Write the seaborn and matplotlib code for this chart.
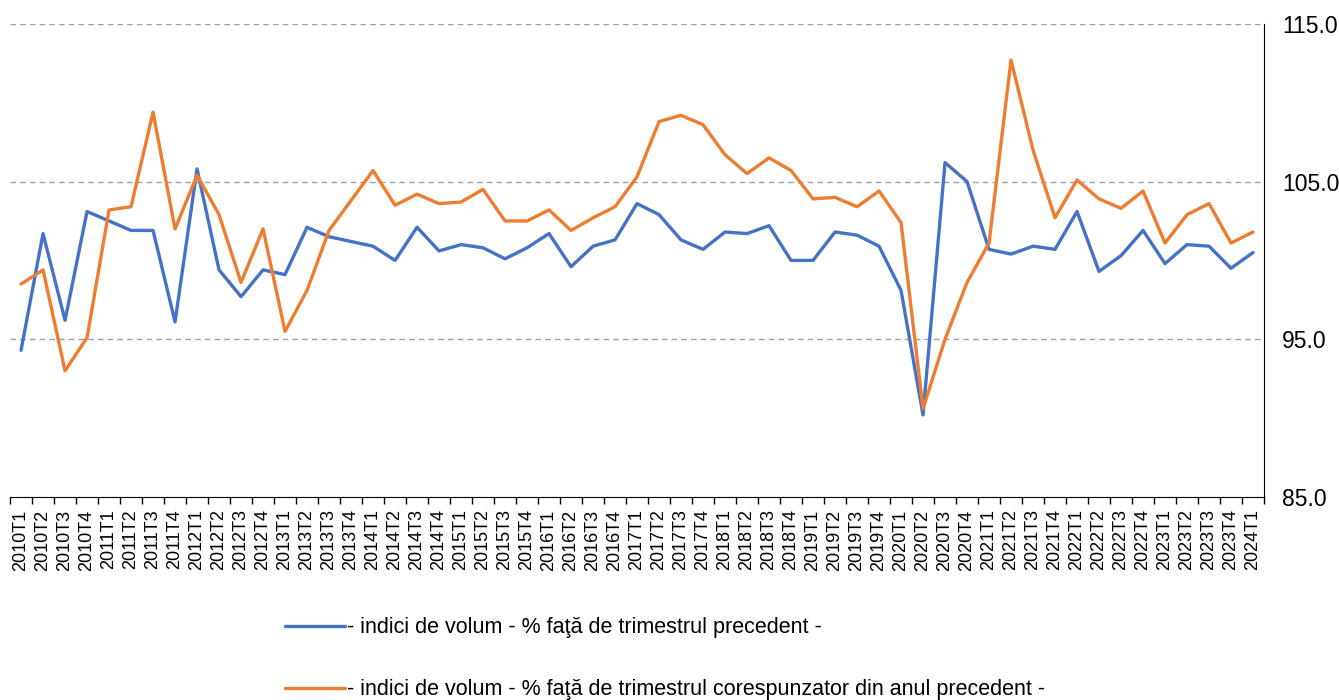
import matplotlib
matplotlib.use("Agg")
import matplotlib.pyplot as plt
import numpy as np
import pandas as pd
import seaborn as sns

# quarters 2010T1 .. 2024T1
quarters = [f"{y}T{q}" for y in range(2010, 2024) for q in range(1, 5)] + ["2024T1"]

# volume index, % vs previous quarter
prev_quarter = [
    94.3, 101.7, 96.2, 103.1, 102.5, 101.9, 101.9, 96.1, 105.8, 99.4,
    97.7, 99.4, 99.1, 102.1, 101.5, 101.2, 100.9, 100.0, 102.1, 100.6,
    101.0, 100.8, 100.1, 100.8, 101.7, 99.6, 100.9, 101.3, 103.6, 102.9,
    101.3, 100.7, 101.8, 101.7, 102.2, 100.0, 100.0, 101.8, 101.6, 100.9,
    98.1, 90.2, 106.2, 105.0, 100.7, 100.4, 100.9, 100.7, 103.1, 99.3,
    100.3, 101.9, 99.8, 101.0, 100.9, 99.5, 100.5,
]

# volume index, % vs same quarter of previous year
prev_year = [
    98.5, 99.4, 93.0, 95.1, 103.2, 103.4, 109.4, 102.0, 105.4, 102.9,
    98.6, 102.0, 95.5, 98.1, 101.9, 103.8, 105.7, 103.5, 104.2, 103.6,
    103.7, 104.5, 102.5, 102.5, 103.2, 101.9, 102.7, 103.4, 105.3, 108.8,
    109.2, 108.6, 106.7, 105.5, 106.5, 105.7, 103.9, 104.0, 103.4, 104.4,
    102.4, 90.6, 95.0, 98.6, 101.1, 112.7, 107.0, 102.7, 105.1, 103.9,
    103.3, 104.4, 101.1, 102.9, 103.6, 101.1, 101.8,
]

labels = [
    "- indici de volum - % faţă de trimestrul precedent -",
    "- indici de volum - % faţă de trimestrul corespunzator din anul precedent -",
]

df = pd.DataFrame({
    "idx": list(range(len(quarters))) * 2,
    "value": prev_quarter + prev_year,
    "serie": [labels[0]] * len(quarters) + [labels[1]] * len(quarters),
})

sns.set_style("ticks")
plt.rcParams["font.family"] = ["Liberation Sans", "DejaVu Sans"]
plt.rcParams["text.color"] = "black"

fig = plt.figure(figsize=(13.39, 7.0), dpi=100)
ax = fig.add_axes([0.0075, 0.29, 0.9365, 0.676])

sns.lineplot(data=df, x="idx", y="value", hue="serie",
             palette=["#4472C4", "#ED7D31"], linewidth=2.4, ax=ax)

ax.set_xlim(-0.5, len(quarters) - 0.5)
ax.set_ylim(85, 115)
ax.set_yticks([85, 95, 105, 115])
ax.set_yticklabels([f"{v:.1f}" for v in [85, 95, 105, 115]], fontsize=16.5)
ax.yaxis.tick_right()
ax.tick_params(axis="y", which="major", right=True, left=False, direction="out",
               length=5, width=1, color="black", labelcolor="black", pad=8)

ax.set_xticks(range(len(quarters)))
ax.set_xticklabels(quarters, rotation=90, fontsize=13)
ax.set_xticks(np.arange(-0.5, len(quarters), 1.0), minor=True)
ax.tick_params(axis="x", which="major", length=0, pad=9, labelcolor="black")
ax.tick_params(axis="x", which="minor", bottom=True, direction="out",
               length=5, width=1, color="black")

ax.set_xlabel("")
ax.set_ylabel("")

for v in [95, 105, 115]:
    ax.axhline(v, color="#a0a0a0", linestyle=(0, (4, 3)), linewidth=1, zorder=0)

sns.despine(ax=ax, left=True, top=True, right=False, bottom=False)
ax.spines["right"].set_color("black")
ax.spines["bottom"].set_color("black")

handles, labs = ax.get_legend_handles_labels()
ax.get_legend().remove()
fig.legend(handles, labs, loc="upper left", bbox_to_anchor=(0.213, 0.118),
           frameon=False, fontsize=15.5, handlelength=2.8, handletextpad=0.05,
           labelspacing=1.9, borderpad=0, borderaxespad=0, labelcolor="black")

fig.savefig("out.png", dpi=100)
